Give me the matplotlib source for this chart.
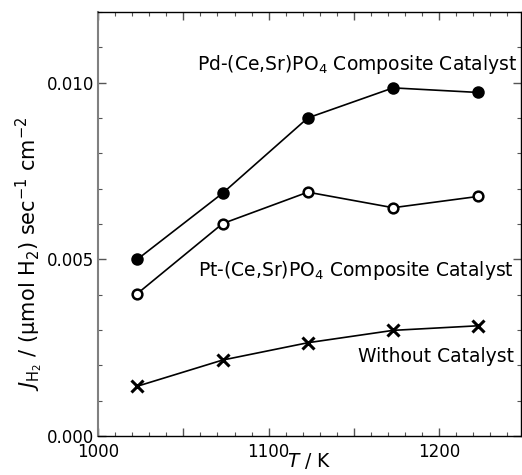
import matplotlib
matplotlib.use('Agg')
import matplotlib.pyplot as plt
from matplotlib.ticker import MultipleLocator, FuncFormatter

# temperature (K) and H2 flux values
T = [1023, 1073, 1123, 1173, 1223]
pd_flux = [0.00500, 0.00687, 0.00900, 0.00985, 0.00972]
pt_flux = [0.00403, 0.00601, 0.00690, 0.00646, 0.00678]
no_cat = [0.00141, 0.00215, 0.00264, 0.00299, 0.00312]

labels = ['Pd-(Ce,Sr)PO$_4$ Composite Catalyst',
          'Pt-(Ce,Sr)PO$_4$ Composite Catalyst',
          'Without Catalyst']

plt.rcParams['font.family'] = 'DejaVu Sans'
plt.rcParams['mathtext.fontset'] = 'dejavusans'

fig = plt.figure(figsize=(5.22, 4.75), dpi=100)
ax = fig.add_axes([0.188, 0.082, 0.81, 0.893])

ax.plot(T, pd_flux, '-o', color='black', lw=1.2, ms=7.5,
        mfc='black', mec='black', mew=1.5)
ax.plot(T, pt_flux, '-o', color='black', lw=1.2, ms=7,
        mfc='white', mec='black', mew=1.8)
ax.plot(T, no_cat, '-x', color='black', lw=1.2, ms=8, mew=2.2)

ax.text(1246, 0.0105, labels[0], fontsize=13.5, ha='right', va='center')
ax.text(1244, 0.00467, labels[1], fontsize=13.5, ha='right', va='center')
ax.text(1244, 0.00224, labels[2], fontsize=13.5, ha='right', va='center')

ax.set_xlim(1000, 1248)
ax.set_ylim(0, 0.012)

ax.xaxis.set_major_locator(MultipleLocator(50))
ax.xaxis.set_minor_locator(MultipleLocator(10))
ax.xaxis.set_major_formatter(FuncFormatter(lambda v, p: '%d' % v if v % 100 == 0 else ''))
ax.yaxis.set_major_locator(MultipleLocator(0.005))
ax.yaxis.set_minor_locator(MultipleLocator(0.001))
ax.yaxis.set_major_formatter(FuncFormatter(lambda v, p: '%.3f' % v))

ax.tick_params(which='both', direction='in', top=True, right=True,
               labelsize=12, color='#555555')
ax.tick_params(axis='x', pad=5)
ax.tick_params(axis='y', pad=3)
ax.tick_params(which='major', length=6, width=1)
ax.tick_params(which='minor', length=3, width=0.8)
ax.spines['left'].set_color('#808080')
ax.spines['left'].set_linewidth(1.5)
for s in ['bottom', 'top', 'right']:
    ax.spines[s].set_linewidth(1.0)

ax.set_xlabel('$T$ / K', fontsize=13.5, labelpad=-7)
ax.set_ylabel(r'$J_{\mathrm{H_2}}$ / (μmol H$_2$) sec$^{-1}$ cm$^{-2}$',
              fontsize=15)
ax.yaxis.set_label_coords(-0.125, 0.43)

# lift the 0.000 label so it sits on the axis line
ax.yaxis.get_major_ticks()[0].label1.set_va('baseline')

fig.savefig('out.png', dpi=100)
